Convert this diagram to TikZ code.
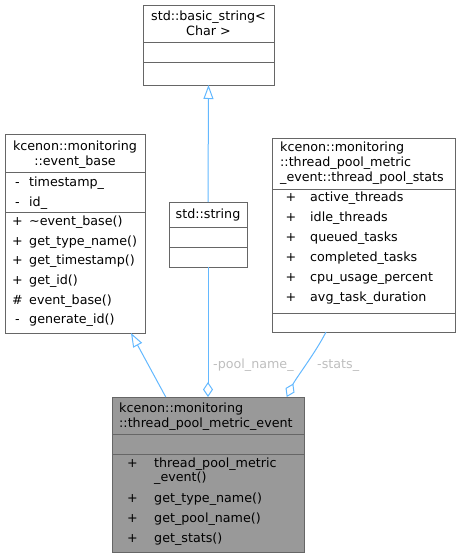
\documentclass[tikz,border=0pt]{standalone}
\usepackage{fontspec}
\setmainfont{DejaVu Sans}
\usetikzlibrary{arrows.meta,calc}
\definecolor{edgeblue}{HTML}{63B8FF}
\definecolor{boxline}{HTML}{666666}
\definecolor{mainfill}{HTML}{999999}
\definecolor{lblgray}{HTML}{BEBEBE}
\begin{document}
\begin{tikzpicture}[x=1pt,y=-1pt,
  every node/.style={font=\fontsize{12.7}{14.3}\selectfont},
  cls/.style={draw=boxline, line width=1pt, inner sep=0, outer sep=0, rectangle},
  sepl/.style={draw=boxline, line width=1pt},
  tl/.style={inner sep=0, anchor=base west},
  tc/.style={inner sep=0, anchor=base},
  edge/.style={draw=edgeblue, line width=1pt},
  lbl/.style={inner sep=0, anchor=base west, text=lblgray},
  inh/.style={-{Triangle[open, length=14pt, width=10pt]}},
  agg/.style={{Diamond[open, length=15pt, width=10pt]}-}
]
\useasboundingbox (0,0) rectangle (460,557);

% std::basic_string<Char>
\node[cls, minimum width=131pt, minimum height=80pt] (bs) at (208.5,45) {};
\draw[sepl] (143,42) -- (274,42);
\draw[sepl] (143,62) -- (274,62);
\node[tc] (bs1) at (208.5,20) {std::basic\_string<};
\node[tc] (bs2) at (208.5,35) {Char >};

% std::string
\node[cls, minimum width=78pt, minimum height=65pt] (ss) at (208,234.5) {};
\draw[sepl] (169,227) -- (247,227);
\draw[sepl] (169,247) -- (247,247);
\node[tc] (ss1) at (208,218.5) {std::string};

% event_base
\node[cls, minimum width=140pt, minimum height=199pt] (eb) at (75,233.5) {};
\draw[sepl] (5,172) -- (145,172);
\draw[sepl] (5,212) -- (145,212);
\node[tc] (eb1) at (75,150.5) {kcenon::monitoring};
\node[tc] (eb2) at (75,165) {::event\_base};
\node[tc] (ebv1) at (17.5,186.5) {-};
\node[tl] (eba1) at (29,186.5) {timestamp\_};
\node[tc] (ebv2) at (17.5,206) {-};
\node[tl] (eba2) at (29,206) {id\_};
\node[tc] (ebv3) at (17.5,225.3) {+};
\node[tl] (ebm1) at (29,225.3) {\textasciitilde event\_base()};
\node[tc] (ebv4) at (17.5,245) {+};
\node[tl] (ebm2) at (29,245) {get\_type\_name()};
\node[tc] (ebv5) at (17.5,264.7) {+};
\node[tl] (ebm3) at (29,264.7) {get\_timestamp()};
\node[tc] (ebv6) at (17.5,284.4) {+};
\node[tl] (ebm4) at (29,284.4) {get\_id()};
\node[tc] (ebv7) at (17.5,304.1) {\#};
\node[tl] (ebm5) at (29,304.1) {event\_base()};
\node[tc] (ebv8) at (17.5,323.8) {-};
\node[tl] (ebm6) at (29,323.8) {generate\_id()};

% thread_pool_stats
\node[cls, minimum width=183pt, minimum height=194pt] (st) at (363.5,235) {};
\draw[sepl] (272,189) -- (455,189);
\draw[sepl] (272,313) -- (455,313);
\node[tl] (st1) at (280,151) {kcenon::monitoring};
\node[tl] (st2) at (280,166) {::thread\_pool\_metric};
\node[tl] (st3) at (280,181) {\_event::thread\_pool\_stats};
\node[tc] (stv1) at (291,201.7) {+};
\node[tl] (sta1) at (310,201.7) {active\_threads};
\node[tc] (stv2) at (291,221.7) {+};
\node[tl] (sta2) at (310,221.7) {idle\_threads};
\node[tc] (stv3) at (291,241.7) {+};
\node[tl] (sta3) at (310,241.7) {queued\_tasks};
\node[tc] (stv4) at (291,261.7) {+};
\node[tl] (sta4) at (310,261.7) {completed\_tasks};
\node[tc] (stv5) at (291,281.7) {+};
\node[tl] (sta5) at (310,281.7) {cpu\_usage\_percent};
\node[tc] (stv6) at (291,301.7) {+};
\node[tl] (sta6) at (310,301.7) {avg\_task\_duration};

% thread_pool_metric_event
\node[cls, fill=mainfill, minimum width=192pt, minimum height=155pt] (me) at (208,474.5) {};
\draw[sepl] (112,434) -- (304,434);
\draw[sepl] (112,454) -- (304,454);
\node[tl] (me1) at (119,412.7) {kcenon::monitoring};
\node[tl] (me2) at (119,427) {::thread\_pool\_metric\_event};
\node[tc] (mev1) at (132.5,467.3) {+};
\node[tl] (mem1) at (154,467.3) {thread\_pool\_metric};
\node[tl] (mem1b) at (154,481.7) {\_event()};
\node[tc] (mev2) at (132.5,502.3) {+};
\node[tl] (mem2) at (154,502.3) {get\_type\_name()};
\node[tc] (mev3) at (132.5,522.3) {+};
\node[tl] (mem3) at (154,522.3) {get\_pool\_name()};
\node[tc] (mev4) at (132.5,542.3) {+};
\node[tl] (mem4) at (154,542.3) {get\_stats()};

% connectors
\draw[edge, inh] (ss.north) -- (bs.south);
\draw[edge, inh] ($(me.north west)!0.28!(me.north east)$) -- ($(eb.south west)!0.9!(eb.south east)$);
\draw[edge, agg] (me.north) -- (ss.south);
\draw[edge, agg] ($(me.north west)!0.91!(me.north east)$) .. controls (296,378) and (316,352) .. ($(st.south west)!0.295!(st.south east)$);

% labels
\node[lbl] (l1) at (213,368.3) {-pool\_name\_};
\node[lbl] (l2) at (317,368.3) {-stats\_};
\end{tikzpicture}
\end{document}
